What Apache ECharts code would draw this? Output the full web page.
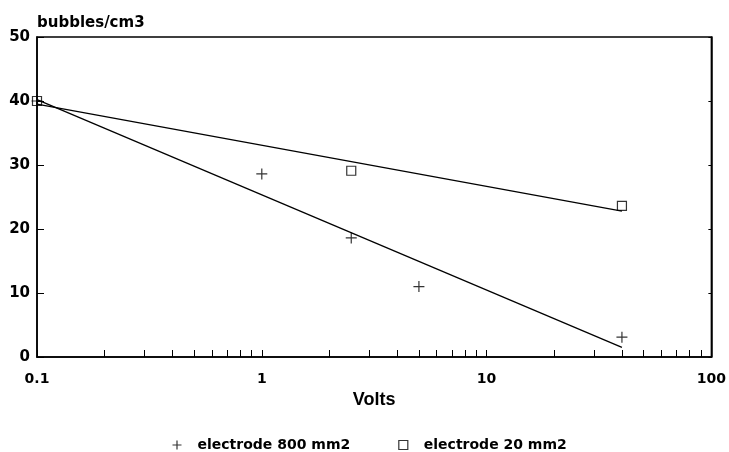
<!DOCTYPE html>
<html><head><meta charset="utf-8">
<script src="https://cdn.jsdelivr.net/npm/echarts@6/dist/echarts.min.js"></script>
<style>html,body{margin:0;padding:0;background:#fff}#c{width:729px;height:452px}</style>
</head><body><div id="c"></div>
<script>
// Data
const volts800 = [0.1, 1, 2.5, 5, 40];
const bubbles800 = [40, 28.6, 18.6, 11, 3.1];
const volts20 = [0.1, 2.5, 40];
const bubbles20 = [40, 29.1, 23.6];
const fitVolts = [0.1, 40];
const fit800 = [40.2, 1.5];
const fit20 = [39.5, 22.8];
const xTickValues = [0.1,0.2,0.3,0.4,0.5,0.6,0.7,0.8,0.9,1,2,3,4,5,6,7,8,9,10,20,30,40,50,60,70,80,90,100];
const xLabelValues = [0.1, 1, 10, 100];

const zip = (a, b) => a.map((v, i) => [v, b[i]]);
const plusPath = 'path://M5,0L5,10M0,5L10,5';
const font = 'DejaVu Sans, sans-serif';
const font2 = 'Liberation Sans, Arial, sans-serif';

const chart = echarts.init(document.getElementById('c'));
chart.setOption({
  animation: false,
  backgroundColor: '#fff',
  grid: { left: 37, right: 16, top: 37, bottom: 95, show: true, borderColor: '#000', borderWidth: 1.5 },
  xAxis: {
    type: 'log', logBase: 10, min: 0.1, max: 100,
    name: 'Volts', nameLocation: 'middle', nameGap: 34,
    nameTextStyle: { fontFamily: font2, fontWeight: 'bold', fontSize: 18, color: '#000' },
    axisLine: { lineStyle: { color: '#000', width: 1.5 } },
    axisTick: { inside: true, length: 7, lineStyle: { color: '#000', width: 1 }, customValues: xTickValues },
    axisLabel: { customValues: xLabelValues, margin: 15, fontFamily: font, fontWeight: 'bold', fontSize: 14, color: '#000',
      formatter: v => String(v) },
    splitLine: { show: false }, minorTick: { show: false }
  },
  yAxis: [{
    type: 'value', min: 0, max: 50, interval: 10,
    name: 'bubbles/cm3', nameLocation: 'end', nameGap: 14,
    nameTextStyle: { fontFamily: font, fontWeight: 'bold', fontSize: 15, color: '#000', align: 'left', verticalAlign: 'middle' },
    axisLine: { show: true, lineStyle: { color: '#000', width: 1.5 } },
    axisTick: { inside: true, length: 7, lineStyle: { color: '#000' } },
    axisLabel: { margin: 7, fontFamily: font, fontWeight: 'bold', fontSize: 15, color: '#000' },
    splitLine: { show: false }
  }, {
    type: 'value', min: 0, max: 50, interval: 10, position: 'right',
    axisLine: { show: true, lineStyle: { color: '#000', width: 1.5 } },
    axisTick: { inside: true, length: 3, lineStyle: { color: '#000' } },
    axisLabel: { show: false }, splitLine: { show: false }
  }],
  legend: {
    top: 433, left: 165, itemGap: 48, itemWidth: 9, itemHeight: 9,
    textStyle: { fontFamily: font, fontWeight: 'bold', fontSize: 14, color: '#000', padding: [0, 0, 0, 11] },
    data: [
      { name: 'electrode 800 mm2', icon: plusPath, itemStyle: { color: 'none', borderColor: '#000', borderWidth: 1.2 } },
      { name: 'electrode 20 mm2', icon: 'rect', itemStyle: { color: '#fff', borderColor: '#000', borderWidth: 1.2 } }
    ]
  },
  series: [
    { name: 'electrode 800 mm2', type: 'scatter', data: zip(volts800, bubbles800), symbol: plusPath, symbolSize: 11,
      itemStyle: { color: 'none', borderColor: '#000', borderWidth: 1.2 }, z: 5 },
    { name: 'electrode 20 mm2', type: 'scatter', data: zip(volts20, bubbles20), symbol: 'rect', symbolSize: 9,
      itemStyle: { color: 'rgba(255,255,255,0)', borderColor: '#000', borderWidth: 1.2 }, z: 5 },
    { name: 'fit800', type: 'line', data: zip(fitVolts, fit800), symbol: 'none',
      lineStyle: { color: '#000', width: 1.3 }, silent: true },
    { name: 'fit20', type: 'line', data: zip(fitVolts, fit20), symbol: 'none',
      lineStyle: { color: '#000', width: 1.3 }, silent: true }
  ]
});
</script></body></html>
